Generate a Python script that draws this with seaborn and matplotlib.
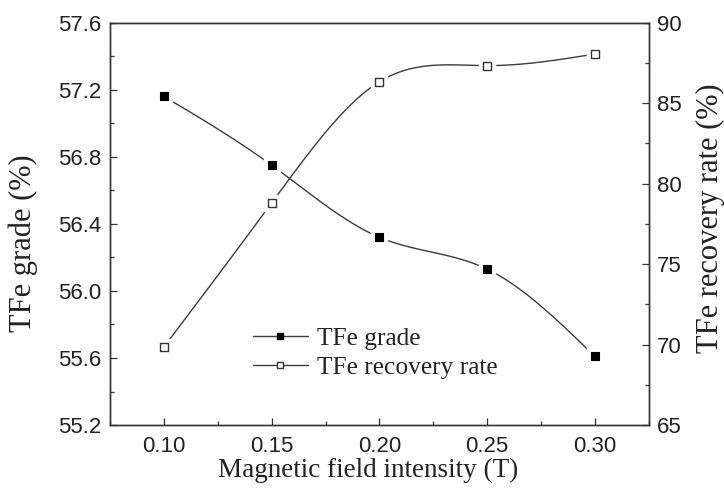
import numpy as np
import pandas as pd
import matplotlib
matplotlib.use("Agg")
import matplotlib.pyplot as plt
from matplotlib.lines import Line2D
from matplotlib.ticker import MultipleLocator, AutoMinorLocator, FormatStrFormatter
import seaborn as sns

# Magnetic separation results
field_T = [0.10, 0.15, 0.20, 0.25, 0.30]
tfe_grade = [57.16, 56.75, 56.32, 56.13, 55.61]
tfe_recovery = [69.85, 78.8, 86.33, 87.33, 88.05]

x_ticks = [0.10, 0.15, 0.20, 0.25, 0.30]
x_ticklabels = ["0.10", "0.15", "0.20", "0.25", "0.30"]


def natural_spline(x, y, n=200):
    """Natural cubic spline through (x, y), sampled on n points."""
    x = np.asarray(x, float)
    y = np.asarray(y, float)
    k = len(x)
    h = np.diff(x)
    A = np.zeros((k, k))
    b = np.zeros(k)
    A[0, 0] = A[-1, -1] = 1.0
    for i in range(1, k - 1):
        A[i, i - 1] = h[i - 1]
        A[i, i] = 2 * (h[i - 1] + h[i])
        A[i, i + 1] = h[i]
        b[i] = 3 * ((y[i + 1] - y[i]) / h[i] - (y[i] - y[i - 1]) / h[i - 1])
    c = np.linalg.solve(A, b)
    xs = np.linspace(x[0], x[-1], n)
    idx = np.clip(np.searchsorted(x, xs) - 1, 0, k - 2)
    dx = xs - x[idx]
    bb = (y[idx + 1] - y[idx]) / h[idx] - h[idx] * (2 * c[idx] + c[idx + 1]) / 3
    dd = (c[idx + 1] - c[idx]) / (3 * h[idx])
    ys = y[idx] + bb * dx + c[idx] * dx ** 2 + dd * dx ** 3
    return xs, ys


sns.set_theme(style="ticks")
plt.rcParams["font.family"] = ["Liberation Sans", "DejaVu Sans"]
plt.rcParams["xtick.direction"] = "in"
plt.rcParams["ytick.direction"] = "in"

fig = plt.figure(figsize=(7.24, 4.92), dpi=100)
ax = fig.add_axes([0.152, 0.136, 0.744, 0.818])
ax2 = ax.twinx()

line_col = "#3c3c3c"
serif = ["Liberation Serif", "DejaVu Serif"]

df = pd.DataFrame({"field": field_T, "grade": tfe_grade, "recovery": tfe_recovery})

# smooth connecting curves
gx, gy = natural_spline(field_T, tfe_grade)
rx, ry = natural_spline(field_T, tfe_recovery)
sns.lineplot(x=gx, y=gy, ax=ax, color=line_col, linewidth=1.0, zorder=2)
sns.lineplot(x=rx, y=ry, ax=ax2, color=line_col, linewidth=1.0, zorder=2)

# white halo so the curves stop just short of each marker
ax.plot(df["field"], df["grade"], ls="none", marker="s", ms=11, mfc="white", mec="white", zorder=3)
ax2.plot(df["field"], df["recovery"], ls="none", marker="s", ms=11, mfc="white", mec="white", zorder=3)

sns.scatterplot(data=df, x="field", y="grade", ax=ax, marker="s", s=38,
                color="black", edgecolor="black", linewidth=0.8, zorder=4)
sns.scatterplot(data=df, x="field", y="recovery", ax=ax2, marker="s", s=36,
                color="white", edgecolor="#333333", linewidth=1.0, zorder=4)

ax.set_xlim(0.075, 0.325)
ax.set_ylim(55.2, 57.6)
ax2.set_ylim(65, 90)

ax.set_xticks(x_ticks)
ax.set_xticklabels(x_ticklabels)
ax.xaxis.set_minor_locator(AutoMinorLocator(2))
ax.yaxis.set_major_locator(MultipleLocator(0.4))
ax.yaxis.set_minor_locator(AutoMinorLocator(2))
ax.yaxis.set_major_formatter(FormatStrFormatter("%.1f"))
ax2.yaxis.set_major_locator(MultipleLocator(5))
ax2.yaxis.set_minor_locator(AutoMinorLocator(2))

for a in (ax, ax2):
    a.tick_params(which="major", length=5, width=0.9, labelsize=16, color="#333333",
                  labelcolor="#222222")
    a.tick_params(which="minor", length=3, width=0.9, color="#333333")
    for s in a.spines.values():
        s.set_linewidth(1.0)
        s.set_color("#333333")
ax.tick_params(axis="x", pad=8)
ax.tick_params(axis="y", pad=6)
ax2.tick_params(axis="y", pad=6)

ax.set_xlabel("Magnetic field intensity (T)", family=serif, fontsize=19.5, color="#222222")
ax.set_ylabel("TFe grade (%)", family=serif, fontsize=22, color="#222222")
ax2.set_ylabel("TFe recovery rate (%)", family=serif, fontsize=22, color="#222222")
ax.xaxis.set_label_coords(0.479, -0.082)
ax.yaxis.set_label_coords(-0.134, 0.452)
ax2.yaxis.set_label_coords(1.087, 0.515)

handles = [
    Line2D([], [], color=line_col, lw=1.0, marker="s", ms=5, mfc="black", mec="black"),
    Line2D([], [], color=line_col, lw=1.0, marker="s", ms=5, mfc="white", mec="#333333"),
]
ax.legend(handles, ["TFe grade", "TFe recovery rate"], loc="center left",
          bbox_to_anchor=(0.265, 0.179), frameon=False, handlelength=2.16,
          borderpad=0, borderaxespad=0, prop={"family": serif, "size": 18.3},
          labelspacing=0.25, handletextpad=0.35, labelcolor="#222222")

fig.savefig("out.png", dpi=100)
